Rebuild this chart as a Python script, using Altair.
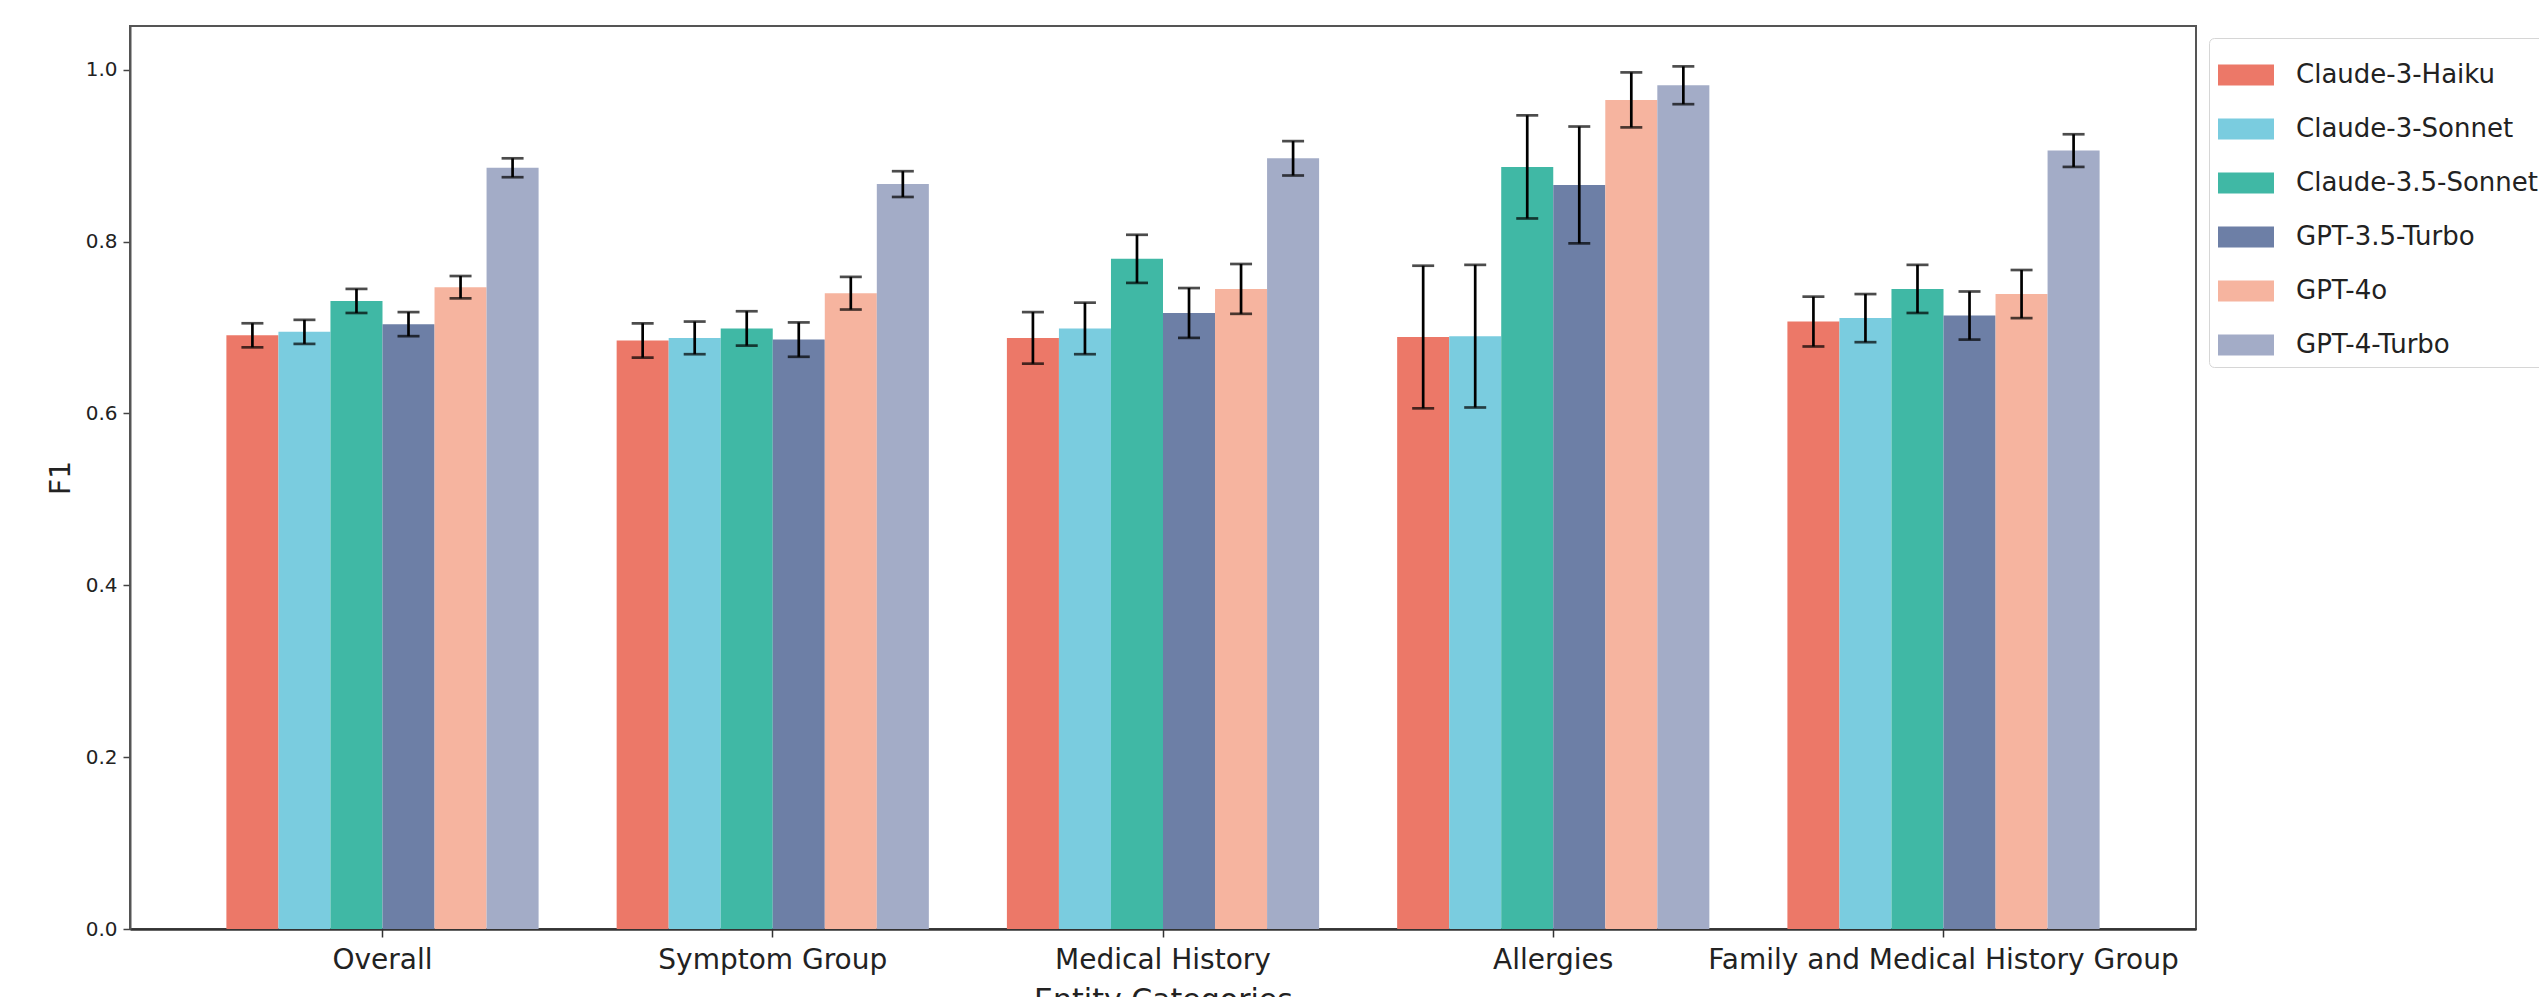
import altair as alt
import pandas as pd

categories = ["Overall", "Symptom Group", "Medical History", "Allergies",
              "Family and Medical History Group"]
models = ["Claude-3-Haiku", "Claude-3-Sonnet", "Claude-3.5-Sonnet",
          "GPT-3.5-Turbo", "GPT-4o", "GPT-4-Turbo"]
colors = ["#EC7868", "#7ACCDF", "#40B8A5", "#6D7FA6", "#F6B49F", "#A3ACC7"]

# F1 per category (order of `categories`) for each model
f1_claude3_haiku = [0.691, 0.685, 0.688, 0.689, 0.707]
f1_claude3_sonnet = [0.695, 0.688, 0.699, 0.690, 0.711]
f1_claude35_sonnet = [0.731, 0.699, 0.780, 0.887, 0.745]
f1_gpt35_turbo = [0.704, 0.686, 0.717, 0.866, 0.714]
f1_gpt4o = [0.747, 0.740, 0.745, 0.965, 0.739]
f1_gpt4_turbo = [0.886, 0.867, 0.897, 0.982, 0.906]

# error half-widths
err_claude3_haiku = [0.014, 0.020, 0.030, 0.083, 0.029]
err_claude3_sonnet = [0.014, 0.019, 0.030, 0.083, 0.028]
err_claude35_sonnet = [0.014, 0.020, 0.028, 0.060, 0.028]
err_gpt35_turbo = [0.014, 0.020, 0.029, 0.068, 0.028]
err_gpt4o = [0.013, 0.019, 0.029, 0.032, 0.028]
err_gpt4_turbo = [0.011, 0.015, 0.020, 0.022, 0.019]

y_ticks = [0.0, 0.2, 0.4, 0.6, 0.8, 1.0]

values = [f1_claude3_haiku, f1_claude3_sonnet, f1_claude35_sonnet,
          f1_gpt35_turbo, f1_gpt4o, f1_gpt4_turbo]
errors = [err_claude3_haiku, err_claude3_sonnet, err_claude35_sonnet,
          err_gpt35_turbo, err_gpt4o, err_gpt4_turbo]

rows = []
for m, vals, errs in zip(models, values, errors):
    for c, v, e in zip(categories, vals, errs):
        rows.append({"category": c, "model": m, "f1": v, "err": e})
df = pd.DataFrame(rows)

FONT = "DejaVu Sans"

x_enc = alt.X(
    "category:N", sort=categories,
    scale=alt.Scale(paddingInner=0.2, paddingOuter=0.247),
    axis=alt.Axis(title="Entity Categories", labelAngle=0, labelFontSize=28,
                  labelFont=FONT, labelColor="#222", tickSize=8, tickWidth=1.5,
                  tickColor="#333", labelPadding=9, titleFontSize=30,
                  titleFont=FONT, titleFontWeight="normal", titleColor="#222",
                  titlePadding=11, domain=True, domainColor="#333",
                  domainWidth=2.5, labelLimit=1000),
)
xo_enc = alt.XOffset("model:N", sort=models,
                     scale=alt.Scale(paddingInner=0, paddingOuter=0))
y_axis = alt.Axis(title="F1", values=y_ticks, format=".1f", grid=False,
                  labelFontSize=20, labelFont=FONT, labelColor="#222",
                  tickSize=7, tickWidth=1.5, tickColor="#444", labelPadding=6,
                  titleFontSize=28, titleFont=FONT, titleFontWeight="normal",
                  titleColor="#222", titlePadding=10, domain=True,
                  domainColor="#555", domainWidth=2)
y_scale = alt.Scale(domain=[0, 1.051], nice=False)

base = alt.Chart(df).transform_calculate(
    lo="datum.f1 - datum.err", hi="datum.f1 + datum.err"
)

bars = base.mark_bar().encode(
    x=x_enc,
    xOffset=xo_enc,
    y=alt.Y("f1:Q", scale=y_scale, axis=y_axis),
    color=alt.Color(
        "model:N", sort=models,
        scale=alt.Scale(domain=models, range=colors),
        legend=alt.Legend(
            title=None, orient="none", legendX=2079, legendY=12,
            symbolType="M-1,-0.375H1V0.375H-1Z", symbolSize=3136,
            symbolStrokeWidth=0, symbolOpacity=1,
            labelFontSize=26, labelFont=FONT, labelColor="#222",
            labelOffset=22, labelLimit=500, rowPadding=13, padding=9,
            fillColor="white", strokeColor="#d6d6d6", cornerRadius=5,
        ),
    ),
)

rules = base.mark_rule(color="black", strokeWidth=2.7).encode(
    x=x_enc, xOffset=xo_enc,
    y=alt.Y("lo:Q", scale=y_scale, axis=y_axis), y2="hi:Q",
)
cap_hi = base.mark_tick(color="black", thickness=2.7, size=22).encode(
    x=x_enc, xOffset=xo_enc, y=alt.Y("hi:Q", scale=y_scale, axis=y_axis),
)
cap_lo = base.mark_tick(color="black", thickness=2.7, size=22).encode(
    x=x_enc, xOffset=xo_enc, y=alt.Y("lo:Q", scale=y_scale, axis=y_axis),
)

chart = alt.layer(bars, rules, cap_hi, cap_lo).properties(
    width=2066, height=903,
    autosize=alt.AutoSizeParams(type="none"),
    padding={"left": 122, "top": 18, "right": 343, "bottom": 68},
).configure(background="white").configure_view(stroke="#555", strokeWidth=2)

chart.save("out.html", embed_options={"renderer": "svg", "actions": False})
